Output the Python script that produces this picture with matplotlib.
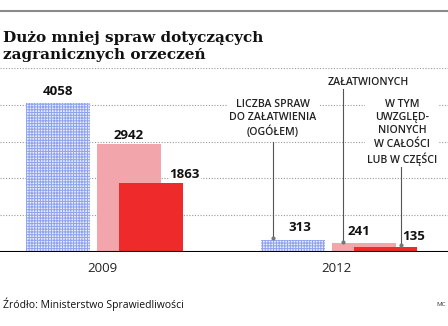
import matplotlib.pyplot as plt
from matplotlib.lines import Line2D

# data
years = ["2009", "2012"]
ogolem = [4058, 313]        # liczba spraw do załatwienia
zalatwionych = [2942, 241]
uwzglednionych = [1863, 135]
grid_vals = [1000, 2000, 3000, 4000, 5000]

title = "Dużo mniej spraw dotyczących\nzagranicznych orzeczeń"
source = "Źródło: Ministerstwo Sprawiedliwości"

W, H = 448, 326
fig = plt.figure(figsize=(W / 100, H / 100), dpi=100)
plt.rcParams['hatch.linewidth'] = 0.7

ax = fig.add_axes([0, 1 - 252 / H, 1, 184 / H])
ax.set_xlim(-0.247, 1.66)
ax.set_ylim(0, 5000)
ax.axis('off')

bw = 0.272
off_pink = 0.302
off_red = 0.394
x = [0, 1]

for v in grid_vals:
    ax.axhline(v, color='#9a9a9a', lw=0.8, ls=(0, (1, 1.5)), zorder=0)

ax.bar(x, ogolem, width=bw, color='#e8ecfb', edgecolor='#8ea2ee', hatch='++++++', lw=0, zorder=2)
ax.bar([i + off_pink for i in x], zalatwionych, width=bw, color='#f2a6ac', lw=0, zorder=3)
ax.bar([i + off_red for i in x], uwzglednionych, width=bw, color='#ee2a2a', lw=0, zorder=4)
ax.axhline(0, color='black', lw=1.5, zorder=5)

num_font = dict(fontsize=9.5, fontweight='bold', family='Open Sans', color='#111111')
ax.text(x[0], ogolem[0] + 120, str(ogolem[0]), ha='center', va='bottom', **num_font)
ax.text(x[0] + off_pink, zalatwionych[0] + 60, str(zalatwionych[0]), ha='center', va='bottom', **num_font,
        bbox=dict(fc='white', ec='none', pad=0.5), zorder=6)
ax.text(x[0] + off_red + bw / 2 + 0.01, uwzglednionych[0] + 60, str(uwzglednionych[0]), ha='center',
        va='bottom', **num_font, bbox=dict(fc='white', ec='none', pad=0.5), zorder=6)
ax.text(x[1] + 0.03, ogolem[1] + 180, str(ogolem[1]), ha='center', va='bottom', **num_font)
ax.text(x[1] + off_pink - 0.02, zalatwionych[1] + 150, str(zalatwionych[1]), ha='center', va='bottom', **num_font)
ax.text(x[1] + off_red + 0.12, uwzglednionych[1] + 120, str(uwzglednionych[1]), ha='center', va='bottom', **num_font)

for i, yr in enumerate(years):
    ax.text(x[i] + 0.187, -440, yr, ha='center', va='center', fontsize=9.5, family='Open Sans', color='#222222')

# annotations with leader lines
lab_font = dict(fontsize=7.6, fontweight='semibold', family='Open Sans', color='#222222', ha='center',
                va='top', linespacing=1.3, bbox=dict(fc='white', ec='none', pad=1.5), zorder=6)
ax.text(x[1] - 0.085, 4170, "LICZBA SPRAW\nDO ZAŁATWIENIA\n(OGÓŁEM)", **lab_font)
ax.text(x[1] + 0.32, 4760, "ZAŁATWIONYCH", **lab_font)
ax.text(x[1] + 0.465, 4170, "W TYM\nUWZGLĘD-\nNIONYCH\nW CAŁOŚCI\nLUB W CZĘŚCI", **lab_font)

leaders = [(x[1] - 0.085, 3000, 380), (x[1] + 0.215, 4420, 280), (x[1] + 0.46, 2310, 190)]
for lx, y0, y1 in leaders:
    ax.add_line(Line2D([lx, lx], [y0, y1], color='#555555', lw=0.8, zorder=7))
    ax.plot([lx], [y1], 'o', ms=2, color='#777777', zorder=7)

# title, top line, footer
fig.add_artist(Line2D([0, 1], [1 - 11 / H, 1 - 11 / H], color='#8a8a8a', lw=1.5))
fig.text(3 / W, 1 - 31 / H, title, ha='left', va='top', fontsize=11, fontweight='bold',
         family='DejaVu Serif', color='#111111', linespacing=1.3)
fig.text(3 / W, 1 - 304 / H, source, ha='left', va='center', fontsize=7.5, family='Open Sans', color='#111111')
fig.text(441 / W, 1 - 304 / H, "MC", ha='center', va='center', fontsize=4.5, family='Open Sans', color='#333333')

fig.savefig('out.png', dpi=100)
